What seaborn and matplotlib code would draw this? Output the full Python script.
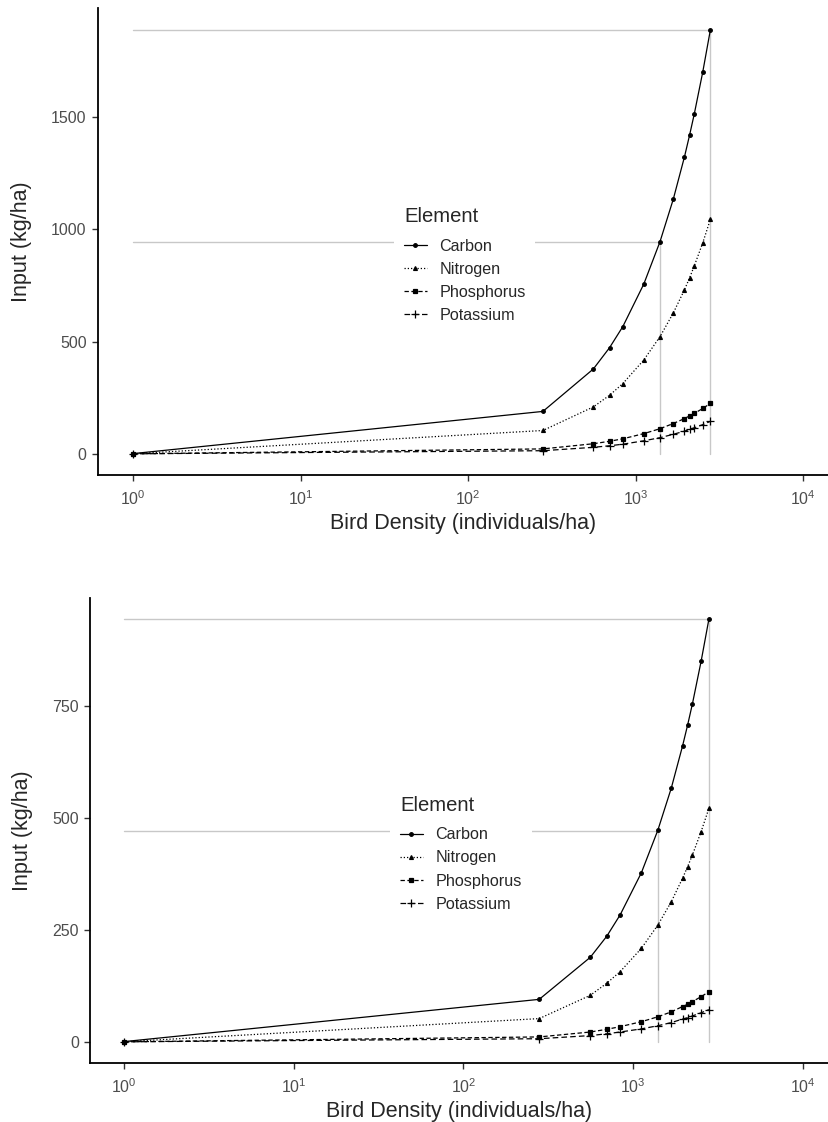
import numpy as np
import pandas as pd
import seaborn as sns
import matplotlib.pyplot as plt

sns.set_theme(style='white')
plt.rcParams['font.family'] = ['Liberation Sans', 'DejaVu Sans']
plt.rcParams['mathtext.default'] = 'regular'

###############################################################################
# Data
###############################################################################
ELEMENTS = ['Carbon', 'Nitrogen', 'Phosphorus', 'Potassium']
density = [1, 280, 560, 700, 840, 1120, 1400, 1680, 1960, 2100, 2240, 2520, 2800]

# top panel, input (kg/ha)
top_carbon = [1, 189, 378, 473, 567, 756, 945, 1134, 1323, 1418, 1512, 1701, 1890]
top_nitrogen = [0.4, 104, 209, 261, 313, 418, 522, 627, 731, 783, 836, 940, 1045]
top_phosphorus = [0.1, 22, 45, 56, 67, 90, 112, 135, 157, 169, 180, 202, 225]
top_potassium = [0.05, 14, 29, 36, 43, 58, 72, 87, 101, 109, 116, 130, 145]

# bottom panel, input (kg/ha)
bot_carbon = [0.5, 95, 189, 236, 284, 378, 473, 567, 662, 709, 756, 851, 945]
bot_nitrogen = [0.2, 52, 104, 131, 157, 209, 261, 313, 366, 392, 418, 470, 522]
bot_phosphorus = [0.04, 11, 22, 28, 34, 45, 56, 67, 79, 84, 90, 101, 112]
bot_potassium = [0.03, 7, 14, 18, 22, 29, 36, 43, 51, 54, 58, 65, 72]

# gray guide lines: (density, input) for the max and half-max points
top_guides = [(2800, 1890), (1400, 945)]
bot_guides = [(2800, 945), (1400, 472.5)]

X_TICKS = [1, 10, 100, 1000, 10000]
X_TICK_LABELS = ['$10^{0}$', '$10^{1}$', '$10^{2}$', '$10^{3}$', '$10^{4}$']
TOP_Y_TICKS = [0, 500, 1000, 1500]
BOT_Y_TICKS = [0, 250, 500, 750]

MARKERS = {'Carbon': 'o', 'Nitrogen': '^', 'Phosphorus': 's', 'Potassium': '+'}
MARKER_SIZE = {'Carbon': 2.6, 'Nitrogen': 2.8, 'Phosphorus': 2.6, 'Potassium': 5.5}
DASHES = {'Carbon': (None, None), 'Nitrogen': (1, 1.6), 'Phosphorus': (3.5, 2),
          'Potassium': (4.5, 2.5)}


def draw_panel(ax, values, guides, yticks, xlim, ylim):
    x_max, y_max = guides[0]
    x_half, y_half = guides[1]
    gray = '#C8C8C8'
    ax.plot([1, x_max], [y_max, y_max], color=gray, linewidth=1, zorder=1)
    ax.plot([1, x_half], [y_half, y_half], color=gray, linewidth=1, zorder=1)
    ax.plot([x_max, x_max], [0, y_max], color=gray, linewidth=1, zorder=1)
    ax.plot([x_half, x_half], [0, y_half], color=gray, linewidth=1, zorder=1)

    for el, vals in zip(ELEMENTS, values):
        df = pd.DataFrame({'density': density, 'input': vals})
        line_kw = dict(linestyle='-') if el == 'Carbon' else dict(dashes=DASHES[el])
        sns.lineplot(data=df, x='density', y='input', color='black',
                     linewidth=0.9, marker=MARKERS[el],
                     markersize=MARKER_SIZE[el], markeredgewidth=0.9,
                     markeredgecolor='black', label=el, ax=ax, zorder=3,
                     **line_kw)

    ax.set_xscale('log')
    ax.set_xlim(*xlim)
    ax.set_ylim(*ylim)
    ax.set_xticks(X_TICKS)
    ax.set_xticklabels(X_TICK_LABELS)
    ax.minorticks_off()
    ax.set_yticks(yticks)
    ax.set_xlabel('Bird Density (individuals/ha)', fontsize=15.5, labelpad=4)
    ax.set_ylabel('Input (kg/ha)', fontsize=15.5, labelpad=14)
    ax.tick_params(axis='both', labelsize=11.5, labelcolor='#4D4D4D',
                   direction='out', length=4, width=1, color='#333333',
                   bottom=True, left=True, pad=4)
    ax.tick_params(axis='x', pad=6)
    for side in ['top', 'right']:
        ax.spines[side].set_visible(False)
    for side in ['left', 'bottom']:
        ax.spines[side].set_color('black')
        ax.spines[side].set_linewidth(1.3)

    leg = ax.legend(title='Element', loc='center', bbox_to_anchor=(0.502, 0.45),
                    frameon=True, facecolor='white', edgecolor='none',
                    framealpha=1, fontsize=11.6, title_fontsize=14.6,
                    handlelength=1.4, handletextpad=0.8, labelspacing=0.5,
                    borderpad=0.6)
    leg._legend_box.align = 'left'
    leg._legend_box.sep = 9
    leg.set_zorder(5)


fig = plt.figure(figsize=(8.29, 11.22), dpi=100)
ax_top = fig.add_axes([0.118, 0.5766, 0.882, 0.416])
ax_bot = fig.add_axes([0.1086, 0.0526, 0.8914, 0.4144])

draw_panel(ax_top, [top_carbon, top_nitrogen, top_phosphorus, top_potassium],
           top_guides, TOP_Y_TICKS, (10 ** -0.21, 10 ** 4.155), (-94.5, 1984.5))
draw_panel(ax_bot, [bot_carbon, bot_nitrogen, bot_phosphorus, bot_potassium],
           bot_guides, BOT_Y_TICKS, (10 ** -0.2, 10 ** 4.155), (-47.25, 992.25))

fig.savefig('out.png', dpi=100)
